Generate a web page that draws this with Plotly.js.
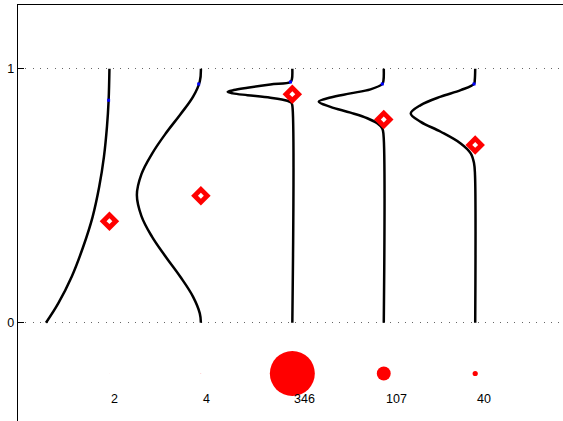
<!DOCTYPE html>
<html>
<head>
<meta charset="utf-8">
<script src="https://cdn.plot.ly/plotly-3.0.1.min.js"></script>
<style>html,body{margin:0;padding:0;background:#fff;}#chart{width:563px;height:421px;}</style>
</head>
<body>
<div id="chart"></div>
<script>
// ---- data ----
const positions = [1, 2, 3, 4, 5];
const counts = [2, 4, 346, 107, 40];
const countLabels = ['2', '4', '346', '107', '40'];
const means = [0.40, 0.50, 0.90, 0.80, 0.70];

// half-violin outlines: value (y) and half-width (x units)
const g1Y = [0, 0.076, 0.181, 0.299, 0.417, 0.535, 0.654, 0.772, 0.876, 1];
const g1W = [0.694, 0.56, 0.413, 0.287, 0.184, 0.112, 0.060, 0.027, 0.009, 0];
const g2Y = [0, 0.037, 0.102, 0.181, 0.26, 0.339, 0.42, 0.503, 0.585, 0.665, 0.745, 0.82, 0.89, 0.95, 1];
const g2W = [0, 0.012, 0.085, 0.225, 0.385, 0.535, 0.65, 0.70, 0.65, 0.535, 0.385, 0.225, 0.085, 0.012, 0];
const g3Y = [0, 0.855, 0.866, 0.874, 0.886, 0.896, 0.903, 0.909, 0.916, 0.925, 0.938, 0.948, 0.96, 1];
const g3W = [0, 0, 0.01, 0.055, 0.24, 0.49, 0.65, 0.707, 0.64, 0.49, 0.24, 0.02, 0.004, 0];
const g4Y = [0, 0.74, 0.765, 0.785, 0.805, 0.827, 0.850, 0.870, 0.887, 0.903, 0.919, 0.94, 0.955, 1];
const g4W = [0, 0.003, 0.017, 0.072, 0.18, 0.364, 0.583, 0.711, 0.583, 0.364, 0.145, 0.016, 0.003, 0];
const g5Y = [0, 0.58, 0.628, 0.667, 0.706, 0.752, 0.791, 0.824, 0.857, 0.89, 0.916, 0.94, 0.955, 1];
const g5W = [0, 0.002, 0.013, 0.049, 0.159, 0.377, 0.596, 0.705, 0.596, 0.377, 0.159, 0.013, 0.005, 0];
const blueY = [0.876, 0.94, 0.948, 0.94, 0.94];

const yTickVals = [0, 1];
const yTickText = ['0', '1'];

// ---- layout constants ----
const BUBBLE_Y = -0.2;
const LABEL_Y = -0.30;
const SMOOTH = [1.1, 1.1, 1.0, 1.0, 1.0];

const groupsY = [g1Y, g2Y, g3Y, g4Y, g5Y];
const groupsW = [g1W, g2W, g3W, g4W, g5W];

function interpW(ys, ws, y) {
  for (let i = 0; i < ys.length - 1; i++) {
    if (y >= ys[i] && y <= ys[i + 1]) {
      const t = (y - ys[i]) / (ys[i + 1] - ys[i]);
      return ws[i] + t * (ws[i + 1] - ws[i]);
    }
  }
  return 0;
}

const traces = [];
groupsY.forEach((ys, i) => {
  traces.push({
    type: 'scatter', mode: 'lines',
    x: ys.map((y, j) => positions[i] - groupsW[i][j]),
    y: ys,
    line: {color: '#000', width: 2.5, shape: 'spline', smoothing: SMOOTH[i]},
    hoverinfo: 'skip', showlegend: false
  });
});
// blue marks on curves
traces.push({
  type: 'scatter', mode: 'markers',
  x: positions.map((p, i) => p - interpW(groupsY[i], groupsW[i], blueY[i])),
  y: blueY,
  marker: {symbol: 'square', size: 3, color: '#0000ff', opacity: 1},
  showlegend: false, hoverinfo: 'skip'
});
// mean diamonds (red, white centre)
traces.push({
  type: 'scatter', mode: 'markers', x: positions, y: means,
  marker: {symbol: 'diamond', size: 15, color: '#ff0000', opacity: 1},
  showlegend: false, hoverinfo: 'skip'
});
traces.push({
  type: 'scatter', mode: 'markers', x: positions, y: means,
  marker: {symbol: 'diamond', size: 4.5, color: '#ffffff', opacity: 1},
  showlegend: false, hoverinfo: 'skip'
});
// count bubbles
traces.push({
  type: 'scatter', mode: 'markers', x: positions, y: positions.map(() => BUBBLE_Y),
  marker: {size: counts, sizemode: 'diameter', sizeref: 7.69, sizemin: 0, color: '#ff0000', opacity: 1, line: {width: 0}},
  showlegend: false, hoverinfo: 'skip'
});

const annotations = positions.map((p, i) => ({
  x: p, y: LABEL_Y, xref: 'x', yref: 'y', text: countLabels[i],
  showarrow: false, xanchor: 'left', yanchor: 'middle',
  font: {family: 'Liberation Sans, Arial, sans-serif', size: 12.5, color: '#000'}
}));

const layout = {
  width: 563, height: 421,
  margin: {l: 18, r: 0, t: 5, b: 0, pad: 0},
  paper_bgcolor: '#fff', plot_bgcolor: '#fff',
  font: {family: 'Liberation Sans, Arial, sans-serif', size: 12.5, color: '#000'},
  showlegend: false,
  xaxis: {
    range: [0, 5.96], showgrid: false, zeroline: false,
    showticklabels: false, ticks: '',
    showline: true, side: 'top', linecolor: '#000', linewidth: 1.3
  },
  yaxis: {
    range: [-0.387, 1.251], zeroline: false,
    tickmode: 'array', tickvals: yTickVals, ticktext: yTickText,
    ticks: 'inside', ticklen: 6, tickwidth: 1, tickcolor: '#000',
    showgrid: true, gridcolor: '#666', gridwidth: 1, griddash: '1px,6.3px',
    showline: true, linecolor: '#000', linewidth: 1.3,
    tickfont: {size: 12.5, color: '#000'}
  },
  annotations: annotations
};

Plotly.newPlot('chart', traces, layout, {displayModeBar: false, staticPlot: true});
</script>
</body>
</html>
